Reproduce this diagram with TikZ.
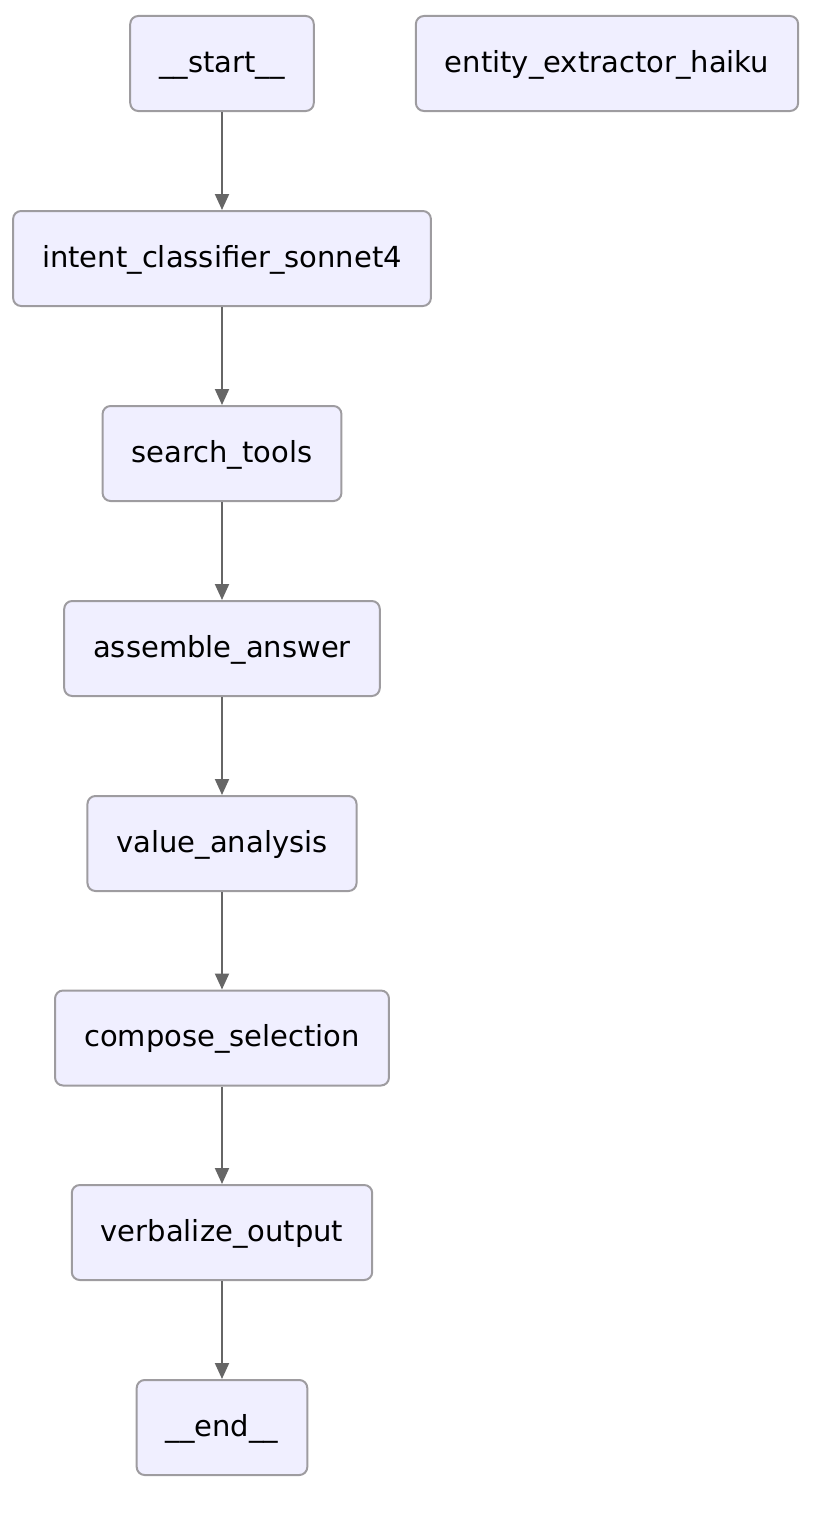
\documentclass[tikz,border=0pt]{standalone}
\usepackage{fontspec}
\setmainfont{DejaVu Sans}
\usetikzlibrary{arrows.meta}
\definecolor{boxfill}{HTML}{F0EFFF}
\definecolor{boxline}{HTML}{9E9CA0}
\definecolor{edgeline}{HTML}{666666}
\tikzset{
  stepbox/.style={draw=boxline,fill=boxfill,line width=2pt,rounded corners=8pt,
    minimum height=95pt,inner xsep=29pt,text height=22pt,text depth=5pt,
    font=\fontsize{29}{35}\selectfont},
  flow/.style={draw=edgeline,line width=2pt,-{Triangle[length=16pt,width=14pt]}}
}
\begin{document}
\begin{tikzpicture}[x=1pt,y=-1pt]
\useasboundingbox(0,0)rectangle(830,1520);
\node[stepbox](start)at(222,63.5){\_\_start\_\_};
\node[stepbox](entity)at(607,63.5){entity\_extractor\_haiku};
\node[stepbox](intent)at(222,258.5){intent\_classifier\_sonnet4};
\node[stepbox](search)at(222,453.5){search\_tools};
\node[stepbox](assemble)at(222,648.5){assemble\_answer};
\node[stepbox](value)at(222,843.5){value\_analysis};
\node[stepbox](compose)at(222,1038){compose\_selection};
\node[stepbox](verbal)at(222,1232.5){verbalize\_output};
\node[stepbox](end)at(222,1427.5){\_\_end\_\_};
\draw[flow](start)--(intent);
\draw[flow](intent)--(search);
\draw[flow](search)--(assemble);
\draw[flow](assemble)--(value);
\draw[flow](value)--(compose);
\draw[flow](compose)--(verbal);
\draw[flow](verbal)--(end);
\end{tikzpicture}
\end{document}
